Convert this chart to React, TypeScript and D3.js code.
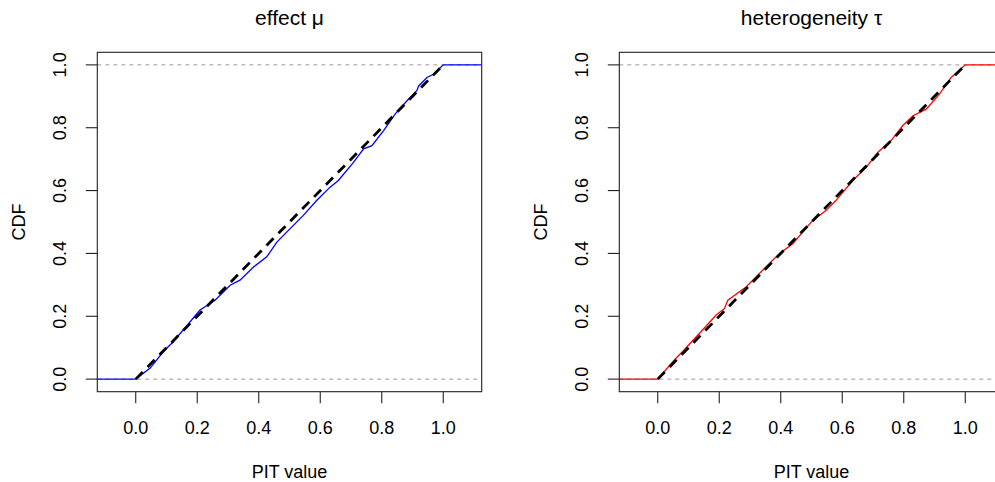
import React from "react";
import * as d3 from "d3";

const xTicks = [0, 0.2, 0.4, 0.6, 0.8, 1.0];
const yTicks = [0, 0.2, 0.4, 0.6, 0.8, 1.0];

const effectX = [-0.3, 0, 0.047, 0.09, 0.122, 0.209, 0.258, 0.307, 0.339, 0.383, 0.426, 0.459, 0.486, 0.545, 0.589, 0.632, 0.659, 0.708, 0.741, 0.768, 0.806, 0.844, 0.882, 0.914, 0.92, 0.947, 0.968, 1.0, 1.3];
const effectY = [0, 0, 0.035, 0.088, 0.119, 0.22, 0.251, 0.299, 0.315, 0.357, 0.389, 0.436, 0.463, 0.521, 0.569, 0.611, 0.632, 0.69, 0.733, 0.743, 0.791, 0.844, 0.886, 0.918, 0.933, 0.96, 0.97, 1.0, 1.0];

const tauX = [-0.3, 0, 0.054, 0.081, 0.136, 0.19, 0.217, 0.228, 0.288, 0.342, 0.396, 0.439, 0.504, 0.548, 0.58, 0.634, 0.678, 0.716, 0.759, 0.797, 0.83, 0.873, 0.916, 0.954, 1.0, 1.3];
const tauY = [0, 0, 0.061, 0.088, 0.146, 0.204, 0.225, 0.251, 0.294, 0.347, 0.4, 0.431, 0.505, 0.537, 0.569, 0.632, 0.674, 0.722, 0.759, 0.807, 0.838, 0.859, 0.907, 0.96, 1.0, 1.0];

const refX = [0, 1];
const refY = [0, 1];

const FONT = "'Liberation Sans', Arial, Helvetica, sans-serif";

type PanelProps = {
  id: string;
  left: number;
  title: string;
  xs: number[];
  ys: number[];
  color: string;
};

function Panel({ id, left, title, xs, ys, color }: PanelProps) {
  const width = 384.4;
  const top = 52.3;
  const bottom = 391.7;
  const x = d3.scaleLinear().domain([-0.125, 1.125]).range([left, left + width]);
  const y = d3.scaleLinear().domain([-0.04, 1.04]).range([bottom, top]);
  const line = d3
    .line<[number, number]>()
    .x((d) => x(d[0]))
    .y((d) => y(d[1]));
  const pts: [number, number][] = xs.map((v, i) => [v, ys[i]]);
  const ref: [number, number][] = refX.map((v, i) => [v, refY[i]]);
  const cx = left + width / 2;
  const cy = (top + bottom) / 2;
  const fs = 18;
  return (
    <g>
      <defs>
        <clipPath id={id}>
          <rect x={left} y={top} width={width} height={bottom - top} />
        </clipPath>
      </defs>
      <g clipPath={`url(#${id})`}>
        {[0, 1].map((h) => (
          <line
            key={h}
            x1={left}
            x2={left + width}
            y1={y(h)}
            y2={y(h)}
            stroke="#9a9a9a"
            strokeWidth={1}
            strokeDasharray="4,4"
          />
        ))}
        <path d={line(pts) || ""} fill="none" stroke={color} strokeWidth={1.3} />
        <path d={line(ref) || ""} fill="none" stroke="#000" strokeWidth={2.8} strokeDasharray="10,7" />
      </g>
      <rect x={left} y={top} width={width} height={bottom - top} fill="none" stroke="#222" strokeWidth={1.1} />
      {xTicks.map((t) => (
        <g key={"x" + t}>
          <line x1={x(t)} x2={x(t)} y1={bottom} y2={bottom + 11.5} stroke="#222" strokeWidth={1.1} />
          <text x={x(t)} y={433.5} textAnchor="middle" fontSize={fs} fontFamily={FONT} fill="#000">
            {t.toFixed(1)}
          </text>
        </g>
      ))}
      {yTicks.map((t) => (
        <g key={"y" + t}>
          <line x1={left - 11.5} x2={left} y1={y(t)} y2={y(t)} stroke="#222" strokeWidth={1.1} />
          <text
            transform={`translate(${left - 31.5},${y(t)}) rotate(-90)`}
            textAnchor="middle"
            fontSize={fs}
            fontFamily={FONT}
            fill="#000"
          >
            {t.toFixed(1)}
          </text>
        </g>
      ))}
      <text x={cx} y={477.5} textAnchor="middle" fontSize={fs} fontFamily={FONT} fill="#000">
        PIT value
      </text>
      <text
        transform={`translate(${left - 72.5},${cy}) rotate(-90)`}
        textAnchor="middle"
        fontSize={fs}
        fontFamily={FONT}
        fill="#000"
      >
        CDF
      </text>
      <text x={cx} y={24.5} textAnchor="middle" fontSize={21} fontFamily={FONT} fill="#000">
        {title}
      </text>
    </g>
  );
}

export default function App() {
  return (
    <svg
      width={995}
      height={482}
      style={{ position: "absolute", left: 0, top: 0, background: "#fff" }}
    >
      <rect x={0} y={0} width={995} height={482} fill="#fff" />
      <Panel id="clipA" left={97.3} title="effect μ" xs={effectX} ys={effectY} color="#0000ff" />
      <Panel id="clipB" left={619.3} title="heterogeneity τ" xs={tauX} ys={tauY} color="#ff0000" />
    </svg>
  );
}
